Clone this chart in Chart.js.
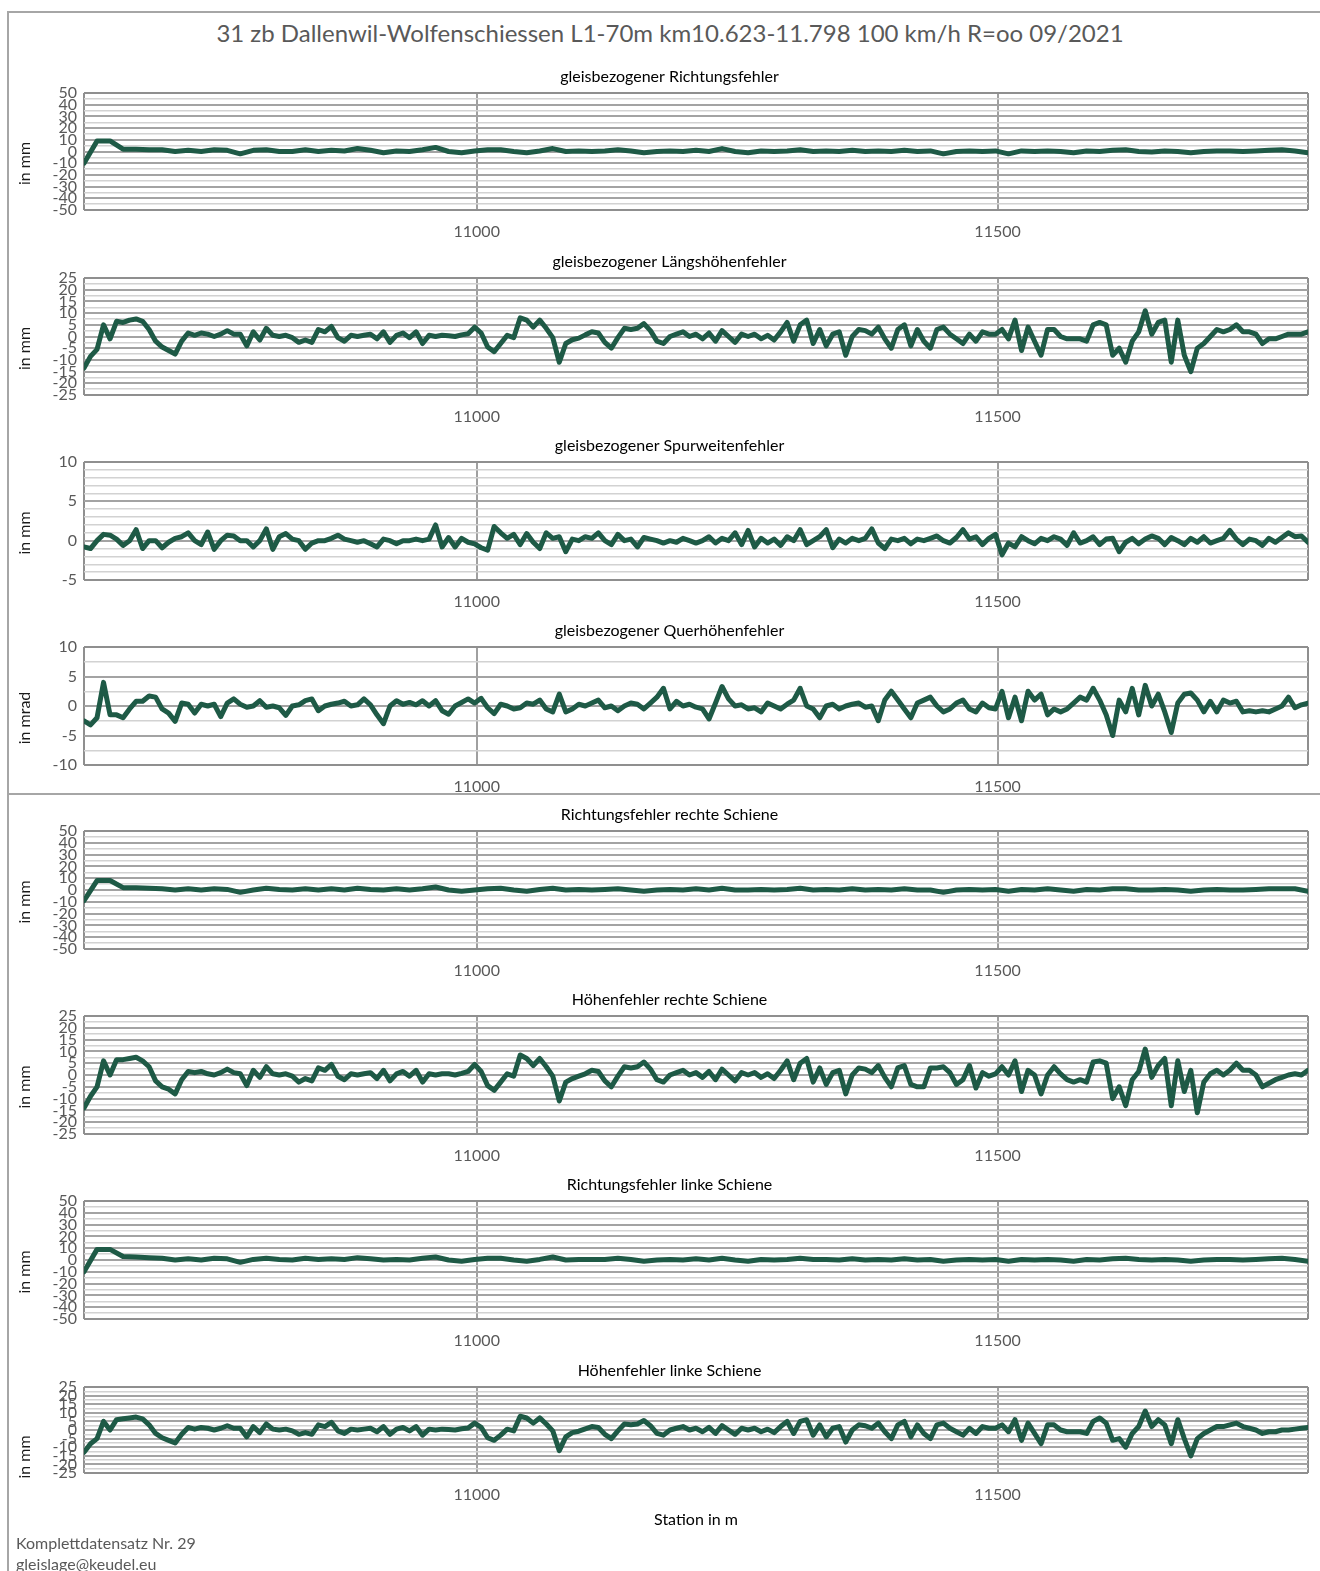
<!DOCTYPE html>
<html>
<head>
<meta charset="utf-8">
<title>31 zb Dallenwil-Wolfenschiessen</title>
<script src="https://cdn.jsdelivr.net/npm/chart.js@4.4.1/dist/chart.umd.min.js"></script>
<style>
  html, body { margin: 0; padding: 0; background: #fff; }
  body { width: 1320px; height: 1571px; position: relative; overflow: hidden; font-family: Lato, "Open Sans", sans-serif; }
  .frame { position: absolute; left: 7px; width: 1320px; border-left: 2px solid #a6a6a6; border-top: 2px solid #a6a6a6; }
  #frameTop { top: 11px; height: 781px; }
  #frameBottom { top: 793px; height: 800px; }
  #mainTitle { position: absolute; left: 0; width: 1340px; top: 18px; text-align: center; font-size: 24px; line-height: 30px; color: #595959; }
  .panel { position: absolute; left: 0; }
  .footer { position: absolute; left: 16px; font-size: 16px; line-height: 20px; color: #595959; }
</style>
</head>
<body>
<div class="frame" id="frameTop"></div>
<div class="frame" id="frameBottom"></div>
<div id="mainTitle">31 zb Dallenwil-Wolfenschiessen L1-70m km10.623-11.798 100 km/h R=oo 09/2021</div>
<div id="panels"></div>
<div class="footer" style="top:1533px">Komplettdatensatz Nr. 29</div>
<div class="footer" style="top:1554px">gleislage@keudel.eu</div>

<script>
// stations (m): km 10.623 - 11.798, sampled every 6.25 m (fine) or 12.5 m (coarse)
const STATION_START = 10623;
const STATION_END = 11798;
const FINE_STEP = 6.25;
const COARSE_STEP = 12.5;
const stationsFine = Array.from({length: 189}, (_, i) => STATION_START + i * FINE_STEP);
const stationsCoarse = Array.from({length: 95}, (_, i) => STATION_START + i * COARSE_STEP);
const xTickLabels = [11000, 11500];

const panelTitles = [
  'gleisbezogener Richtungsfehler',
  'gleisbezogener Längshöhenfehler',
  'gleisbezogener Spurweitenfehler',
  'gleisbezogener Querhöhenfehler',
  'Richtungsfehler rechte Schiene',
  'Höhenfehler rechte Schiene',
  'Richtungsfehler linke Schiene',
  'Höhenfehler linke Schiene'
];
const panelUnits = ['in mm', 'in mm', 'in mm', 'in mrad', 'in mm', 'in mm', 'in mm', 'in mm'];

// y ranges: [min, max, major step, minor step]
const rangeDir = [-50, 50, 10, 5];
const rangeHeight = [-25, 25, 5, 2.5];
const rangeGauge = [-5, 10, 5, 1];
const rangeCant = [-10, 10, 5, 2.5];

// gleisbezogener Richtungsfehler (coarse)
const richtung = [
  -10, 9, 9, 2, 2, 1.5, 1.5, 0, 1, 0,
  1.5, 1, -2, 1, 1.5, 0, 0, 1.5, 0, 1,
  0.5, 2.5, 1, -1, 0.5, 0, 1.5, 3.5, 0, -1,
  0.5, 1.5, 1.5, 0, -1, 0.5, 2.5, 0, 0.5, 0,
  0.5, 1.5, 0.5, -1, 0, 0.5, 0, 1, 0, 2.5,
  0, -1, 0.5, 0, 0.5, 1.5, 0, 0.5, 0, 1,
  0, 0.5, 0, 1, 0, 0.5, -2, 0, 0.5, 0,
  0.5, -2, 0.5, 0, 0.5, 0, -1, 0.5, 0, 1,
  1.5, 0, -0.5, 0.5, 0, -1, 0, 0.5, 0.5, 0,
  0.5, 1, 1.5, 0.5, -1
];

// gleisbezogener Längshöhenfehler (fine)
const laengshoehe = [
  -13.5, -8.5, -5.5, 5, -1, 6.5, 6, 7, 7.5, 6.5,
  3, -2, -4.5, -6, -7.5, -2, 1.5, 0.5, 1.5, 1,
  0, 1, 2.5, 1, 1, -4, 2, -1.5, 3.5, 0.5,
  0, 0.5, -0.5, -2.5, -1.5, -2.5, 3, 2, 4.3, -0.5,
  -2, 0.5, 0, 0.5, 1, -1, 2, -2.5, 0.5, 1.5,
  -0.5, 2, -3, 0.5, 0, 0.5, 0.3, 0, 0.7, 1.2,
  4, 1.5, -4.5, -6.5, -3, 0.5, -0.5, 8, 7, 4,
  7, 3.5, -0.5, -11, -3, -1.4, -0.7, 0.7, 2, 1.5,
  -2.5, -5, -0.5, 3.5, 3, 3.5, 5.5, 2.5, -2, -3,
  0, 1, 2, 0, 1, -1, 1.5, -2, 2.5, 0,
  -2.5, 1, 0, 1, -1, 0.5, -1.5, 2, 6, -2,
  5, 7, -3, 3, -4, 1, 2, -8, 0, 3,
  2.5, 1, 4, -1, -5, 3, 5, -4, 3, -2,
  -5, 3, 4, 1, -1, -3, 1, -2, 2, 1,
  1, 3, -1, 7, -6, 4, -2, -8, 3, 3,
  0, -1, -1, -1, -2, 5, 6, 5, -8, -5,
  -11, -2, 2, 11, 1, 6, 7, -11, 7, -8,
  -15, -5, -3, 0, 3, 2, 3, 5, 2, 2,
  1, -3, -1, -1, 0, 1, 1, 1, 2
];

// gleisbezogener Spurweitenfehler (fine)
const spurweite = [
  -0.8, -1, 0, 0.8, 0.7, 0.2, -0.6, 0, 1.4, -1,
  0, 0, -0.9, -0.2, 0.3, 0.5, 1, 0, -0.5, 1.1,
  -1.1, 0, 0.7, 0.6, 0, 0, -0.8, 0, 1.5, -1.1,
  0.5, 0.9, 0.2, 0, -1.1, -0.3, 0, 0, 0.3, 0.7,
  0.2, 0, -0.2, 0, -0.4, -0.8, 0.2, 0, -0.4, 0,
  0, 0.2, 0, 0.2, 2, -0.8, 0.4, -0.8, 0.3, -0.2,
  -0.4, -0.9, -1.2, 1.8, 1, 0.3, 0.8, -0.5, 0.9, -0.2,
  -1, 1, 0.3, 0.5, -1.4, 0.2, 0, 0.5, 0.3, 1,
  0, -0.5, 0.8, 0, 0.2, -0.8, 0.4, 0.2, 0, -0.3,
  0, -0.2, 0.3, 0, -0.3, 0, 0.5, -0.3, 0.3, 0,
  1, -0.5, 1.3, -0.8, 0.3, -0.3, 0.2, -0.6, 0.5, 0,
  1.4, -0.5, 0, 0.5, 1.4, -0.9, 0.2, -0.3, 0.3, 0,
  0.3, 1.5, -0.3, -1, 0.2, 0, 0.3, -0.4, 0.2, 0,
  0.3, 0.6, 0, -0.3, 0.4, 1.4, 0.2, 0.5, -0.5, 0.3,
  0.8, -1.8, -0.3, -0.8, 0.5, 0, -0.4, 0.3, 0, 0.5,
  0.2, -0.6, 1, -0.3, 0, 0.5, -0.5, 0.2, 0.3, -1.4,
  -0.2, 0.3, -0.4, 0.2, 0.6, 0.3, -0.5, 0.4, 0, -0.5,
  0.3, -0.2, 0.5, -0.3, 0, 0.3, 1.3, 0.2, -0.5, 0.2,
  0, -0.6, 0.3, -0.2, 0.4, 1, 0.5, 0.6, -0.2
];

// gleisbezogener Querhöhenfehler (fine)
const querhoehe = [
  -2.5, -3.2, -2, 4, -1.5, -1.5, -2, -0.5, 0.8, 0.8,
  1.7, 1.5, -0.5, -1.2, -2.6, 0.5, 0.3, -1.2, 0.3, 0,
  0.3, -1.8, 0.5, 1.2, 0.3, -0.2, 0, 0.9, -0.2, 0,
  -0.3, -1.6, 0, 0.2, 0.9, 1.2, -0.8, 0, 0.3, 0.5,
  0.8, 0, 0.2, 1.2, 0.2, -1.5, -3, 0, 0.9, 0.3,
  0.6, 0.2, 0.9, 0, 0.9, -0.8, -1.4, 0, 0.6, 1.2,
  0.5, 1.3, -0.3, -1.3, 0.3, 0, -0.5, -0.3, 0.5, 0.3,
  1, -0.5, -1, 2, -1, -0.5, 0.3, 0, 0.5, 1,
  -0.3, 0, -0.8, 0, 0.5, 0.3, -0.5, 0.5, 1.5, 3,
  -0.5, 0.8, 0, 0.3, -0.2, -0.5, -2.2, 0.5, 3.3, 1.2,
  0, 0.2, -0.5, -0.3, -1, 0.5, 0, -0.5, 0.3, 1,
  3, 0, -0.5, -2, 0, 0.3, -0.5, 0, 0.3, 0.5,
  -0.2, 0, -2.5, 1, 2.5, 1, -0.5, -2, 0.5, 1,
  1.5, 0, -1, -0.5, 0.5, 1, -0.5, -1, 0.5, -0.3,
  -0.5, 2.5, -2, 1.5, -2.5, 2.5, 1, 2, -1.5, -0.5,
  -1, -0.5, 0.5, 1.5, 1, 3, 1, -1.5, -5, 1,
  -1, 3, -1.5, 3.5, 0, 2, -1, -4.5, 0.5, 2,
  2.2, 1, -1, 0.8, -1, 1, 0.5, 0.8, -1, -0.8,
  -1, -0.8, -1, -0.5, 0, 1.5, -0.3, 0.2, 0.5
];

// Richtungsfehler rechte Schiene (coarse)
const richtungRechts = [
  -9, 8, 8, 2, 2, 1.5, 1, 0, 1, 0,
  1, 0.5, -2, 0, 1.5, 0.5, 0, 1, 0, 1,
  0, 1.5, 0.5, 0, 1, 0, 1, 2.5, 0, -1,
  0, 1, 1.5, 0, -1, 0.5, 1.5, 0, 0.5, 0,
  0.5, 1, 0, -1, 0, 0.5, 0, 1, 0, 1.5,
  0, 0, 0.5, 0, 0.5, 1.5, 0, 0.5, 0, 1,
  0, 0.5, 0, 1, 0, 0, -2, 0, 0.5, 0,
  0.5, -1, 0.5, 0, 1, 0, -1, 0.5, 0, 1,
  1, 0, 0, 0.5, 0, -1, 0, 0.5, 0, 0,
  0.5, 1, 1, 1, -1
];

// Höhenfehler rechte Schiene (fine)
const hoeheRechts = [
  -14, -9, -5, 6, 0, 6.5, 6.5, 7, 7.5, 6,
  3.5, -2.5, -5, -6, -8, -2, 1.5, 1, 1.5, 0.5,
  0, 1, 2.5, 1, 0.5, -4.5, 2, -1, 3.5, 0.5,
  0, 0.5, -0.5, -3, -1.5, -2.5, 3, 2, 4.5, -0.5,
  -2, 0.5, 0, 0.5, 1, -1.5, 2, -2.5, 0.5, 1.5,
  -0.5, 2, -3, 0.5, 0, 0.5, 0.5, 0, 0.7, 1.5,
  4.5, 1.5, -4.5, -6.5, -3, 0.5, -0.5, 8.5, 7, 4,
  7, 3.5, -0.5, -11, -3, -1.5, -0.5, 0.5, 2, 1.5,
  -2.5, -5, -0.5, 3.5, 3, 3.5, 5.5, 2.5, -2, -3,
  0, 1, 2, 0, 1, -1, 1.5, -2, 2.5, 0,
  -2.5, 1, 0, 1, -1, 0.5, -1.5, 2, 6, -2,
  5, 7, -3, 3, -4, 1, 2, -8, 0, 3,
  2.5, 1, 4, -1, -5, 3, 4, -4, -5, -5,
  3, 3, 3.5, 1, -4, -2, 4, -5.5, 1, -0.5,
  0.5, 3.5, 0, 6, -7, 2, 0, -8, 0, 3.5,
  0.5, -2, -3, -2, -3, 5.5, 6, 5, -10, -5,
  -13, -2, 1.5, 11, -1, 4, 7, -13, 6, -7,
  2, -16, -3, 0.5, 2, 0, 2, 5, 2, 2,
  0, -5, -3.5, -2, -1, 0, 0.5, 0, 2
];

// Richtungsfehler linke Schiene (coarse)
const richtungLinks = [
  -10, 9, 9, 3, 2.5, 2, 1.5, 0, 1, 0,
  1.5, 1, -2, 0.5, 1.5, 0.5, 0, 1.5, 0.5, 1,
  0.5, 2, 1, 0, 0.5, 0, 1.5, 2.5, 0, -1,
  0.5, 1.5, 1.5, 0, -1, 0.5, 2.5, 0, 0.5, 0.5,
  0.5, 1.5, 0.5, -1, 0, 0.5, 0, 1, 0, 1.5,
  0, -1, 0.5, 0, 0.5, 1.5, 0.5, 0.5, 0, 1,
  0, 0.5, 0, 1, 0, 0.5, -1, 0, 0.5, 0,
  0.5, -1, 0.5, 0, 0.5, 0, -1, 0.5, 0, 1,
  1.5, 0.5, 0, 0.5, 0, -1, 0, 0.5, 0.5, 0,
  0.5, 1, 1.5, 0.5, -1
];

// Höhenfehler linke Schiene (fine)
const hoeheLinks = [
  -13, -8, -5, 5, 0, 6, 6.5, 7, 7.5, 6.5,
  3, -2, -4.5, -6, -7.5, -2.5, 1.5, 0.5, 1.5, 1,
  0, 1, 2.5, 1, 1, -4, 2, -1.5, 3.5, 0.5,
  0, 0.5, -0.5, -2.5, -1.5, -2.5, 3, 2, 4.5, -0.5,
  -2, 0.5, 0, 0.5, 1, -1, 2, -2.5, 0.5, 1.5,
  -0.5, 2, -3, 0.5, 0, 0.5, 0.3, 0, 0.7, 1.2,
  4, 1.5, -4.5, -6, -3, 0.5, -0.5, 8, 7, 4,
  7, 3.5, -0.5, -12, -4, -1.5, -0.7, 0.7, 2, 1.5,
  -2.5, -5, -0.5, 3.5, 3, 3.5, 5.5, 2.5, -2, -3,
  0, 1, 2, 0, 1, -1, 1.5, -2, 2.5, 0,
  -2.5, 1, 0, 1, -1, 0.5, -1.5, 2, 5, -2,
  5, 6, -3, 3, -4, 1, 2, -7, 0, 3,
  2.5, 1, 4, -1, -5, 3, 5, -4, 3, -2,
  -5, 3, 4, 1, -1, -3, 1, -2, 2, 1,
  1, 3, -1, 6, -6, 4, -2, -8, 3, 3,
  0, -1, -1, -1, -2, 5, 7, 4, -6, -5,
  -10, -2, 2, 11, 2, 6, 3, -8, 6, -5,
  -15, -5, -2, 0, 2, 2, 3, 4, 2, 1,
  0, -2, -1, -1, 0, 0, 0.5, 1, 1.5
];

const panelValues = [richtung, laengshoehe, spurweite, querhoehe, richtungRechts, hoeheRechts, richtungLinks, hoeheLinks];
const panelStations = [stationsCoarse, stationsFine, stationsFine, stationsFine, stationsCoarse, stationsFine, stationsCoarse, stationsFine];
const panelRanges = [rangeDir, rangeHeight, rangeGauge, rangeCant, rangeDir, rangeHeight, rangeDir, rangeHeight];

// page layout (plot area top/bottom in px)
const plotTops = [93, 278, 462, 647, 831, 1016, 1201, 1387];
const plotBottoms = [210, 395, 580, 765, 949, 1134, 1319, 1473];

const FONT = 'Lato, "Open Sans", sans-serif';
const LINE_COLOR = '#1e5a46';

const yTitlePlugin = {
  id: 'yTitle',
  afterDraw(chart, args, opts) {
    const {ctx, chartArea} = chart;
    ctx.save();
    ctx.translate(opts.x, (chartArea.top + chartArea.bottom) / 2 + opts.shift);
    ctx.rotate(-Math.PI / 2);
    ctx.font = '16px ' + FONT;
    ctx.fillStyle = '#1a1a1a';
    ctx.textAlign = 'center';
    ctx.textBaseline = 'middle';
    ctx.fillText(opts.text, 0, 0);
    ctx.restore();
  }
};

function isMultiple(v, step) {
  const q = v / step;
  return Math.abs(q - Math.round(q)) < 1e-6;
}

const holder = document.getElementById('panels');

panelTitles.forEach((title, k) => {
  const last = k === panelTitles.length - 1;
  const [yMin, yMax, major, minor] = panelRanges[k];
  const xAxisHeight = last ? 62 : 34;
  const top = plotTops[k] - 34;
  const height = plotBottoms[k] - plotTops[k] + 34 + xAxisHeight;

  const div = document.createElement('div');
  div.className = 'panel';
  div.style.top = top + 'px';
  const canvas = document.createElement('canvas');
  canvas.width = 1320;
  canvas.height = height;
  div.appendChild(canvas);
  holder.appendChild(div);

  const stations = panelStations[k];
  const values = panelValues[k];
  const yTicks = [];
  for (let v = yMin; v <= yMax + 1e-9; v += minor) yTicks.push(Math.round(v * 100) / 100);

  new Chart(canvas, {
    type: 'line',
    data: {
      datasets: [{
        data: stations.map((s, i) => ({x: s, y: values[i]})),
        borderColor: LINE_COLOR,
        borderWidth: 5,
        pointRadius: 0,
        tension: 0,
        borderJoinStyle: 'round',
        borderCapStyle: 'round'
      }]
    },
    options: {
      responsive: false,
      animation: false,
      devicePixelRatio: 1,
      layout: { padding: { left: 27, right: 8, top: 0, bottom: 0 } },
      plugins: {
        legend: { display: false },
        tooltip: { enabled: false },
        title: {
          display: true,
          text: title,
          color: '#000000',
          font: { family: FONT, size: 16, weight: 'normal' },
          padding: { top: 8, bottom: 6.8 }
        },
        yTitle: { text: panelUnits[k], x: 25, shift: last ? 27 : 12 }
      },
      scales: {
        x: {
          type: 'linear',
          min: STATION_START,
          max: STATION_END,
          afterBuildTicks: ax => {
            ax.ticks = [STATION_START, ...xTickLabels, STATION_END].map(v => ({value: v}));
          },
          afterFit: ax => { ax.height = xAxisHeight; },
          grid: {
            color: ctx => (ctx.tick && xTickLabels.includes(ctx.tick.value)) ? '#a0a0a0' : '#8f8f8f',
            lineWidth: 2,
            drawTicks: false
          },
          border: { display: false },
          ticks: {
            autoSkip: false,
            maxRotation: 0,
            padding: 12,
            color: '#595959',
            font: { family: FONT, size: 16 },
            callback: v => xTickLabels.includes(v) ? String(v) : ''
          },
          title: {
            display: last,
            text: 'Station in m',
            color: '#000000',
            font: { family: FONT, size: 16, weight: 'normal' },
            padding: { top: 0, bottom: 6 }
          }
        },
        y: {
          min: yMin,
          max: yMax,
          afterBuildTicks: ax => { ax.ticks = yTicks.map(v => ({value: v})); },
          afterFit: ax => { ax.width = 57; },
          grid: {
            color: ctx => {
              const v = ctx.tick ? ctx.tick.value : 0;
              if (v === yMin || v === yMax) return '#8f8f8f';
              return isMultiple(v, major) ? '#a3a3a3' : '#d2d2d2';
            },
            lineWidth: ctx => {
              const v = ctx.tick ? ctx.tick.value : 0;
              return (v === yMin || v === yMax || isMultiple(v, major)) ? 2 : 1.5;
            },
            drawTicks: false
          },
          border: { display: false },
          ticks: {
            autoSkip: false,
            padding: 7,
            color: '#595959',
            font: { family: FONT, size: 16 },
            callback: v => isMultiple(v, major) ? String(v) : ''
          }
        }
      }
    },
    plugins: [yTitlePlugin]
  });
});
</script>
</body>
</html>
